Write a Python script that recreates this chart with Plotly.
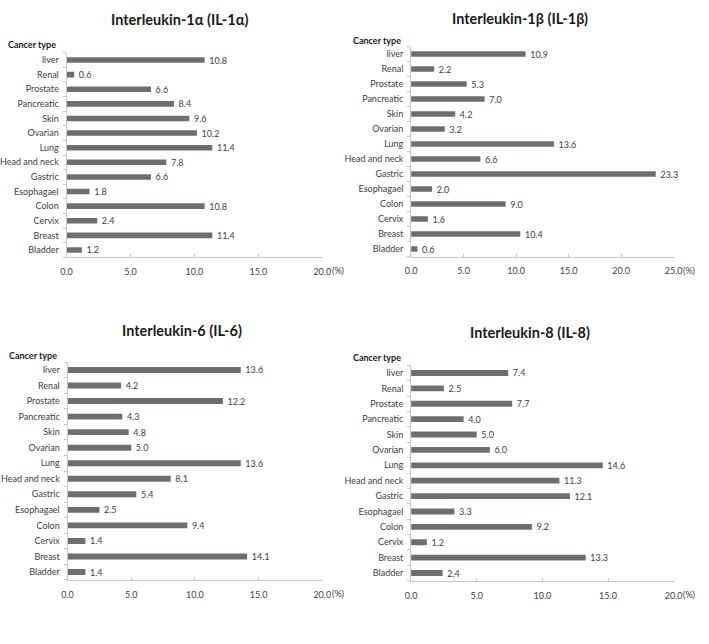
import plotly.graph_objects as go

categories = ["liver", "Renal", "Prostate", "Pancreatic", "Skin", "Ovarian", "Lung",
              "Head and neck", "Gastric", "Esophagael", "Colon", "Cervix", "Breast", "Bladder"]

il1a = [10.8, 0.6, 6.6, 8.4, 9.6, 10.2, 11.4, 7.8, 6.6, 1.8, 10.8, 2.4, 11.4, 1.2]
il1b = [10.9, 2.2, 5.3, 7.0, 4.2, 3.2, 13.6, 6.6, 23.3, 2.0, 9.0, 1.6, 10.4, 0.6]
il6 = [13.6, 4.2, 12.2, 4.3, 4.8, 5.0, 13.6, 8.1, 5.4, 2.5, 9.4, 1.4, 14.1, 1.4]
il8 = [7.4, 2.5, 7.7, 4.0, 5.0, 6.0, 14.6, 11.3, 12.1, 3.3, 9.2, 1.2, 13.3, 2.4]

titles = ["Interleukin-1α (IL-1α)", "Interleukin-1β (IL-1β)",
          "Interleukin-6 (IL-6)", "Interleukin-8 (IL-8)"]
x_max = [20, 25, 20, 20]
series = [il1a, il1b, il6, il8]

W, H = 709, 644
def px(x): return x / W
def py(y): return 1 - y / H

# pixel layout of each panel: (x0, x1, ytop, ybottom, title_cx, title_y, ct_x, ct_y)
panels = [
    (60, 322, 52.7, 257.3, 176, 20, -2, 44),
    (413, 682, 46.5, 256.5, 525, 18, 351, 40),
    (61, 322, 362.2, 579.8, 178, 330, -1, 355),
    (413, 682, 365.3, 580.7, 535, 332, 351, 357),
]

bar_color = "#6b706e"
txt_color = "#404040"
font_fam = "Lato, Open Sans, sans-serif"

fig = go.Figure()
annotations = []
for i, (vals, p) in enumerate(zip(series, panels)):
    x0, x1, yt, yb, tcx, ty, ctx, cty = p
    xa = "x" if i == 0 else f"x{i+1}"
    ya = "y" if i == 0 else f"y{i+1}"
    fig.add_trace(go.Bar(
        x=vals, y=categories, orientation="h", xaxis=xa, yaxis=ya,
        marker=dict(color=bar_color, line=dict(width=0)),
        width=0.38,
        text=["\u00a0\u00a0" + f"{v:.1f}" for v in vals], textposition="outside",
        constraintext="none",
        textfont=dict(size=9, color=txt_color, family=font_fam),
        cliponaxis=False, showlegend=False, hoverinfo="skip",
    ))
    key = "" if i == 0 else str(i + 1)
    fig.layout["xaxis" + key] = dict(
        domain=[px(x0), px(x1)], anchor=ya, range=[0, x_max[i]],
        tickvals=list(range(0, x_max[i] + 1, 5)), tickformat=".1f",
        showgrid=False, zeroline=False, showline=True, linecolor="#c8c8c8", linewidth=1,
        ticks="inside", ticklen=3, tickcolor="#c8c8c8", ticklabelstandoff=6,
        tickfont=dict(size=9, color=txt_color, family=font_fam), fixedrange=True,
    )
    fig.layout["yaxis" + key] = dict(
        domain=[py(yb), py(yt)], anchor=xa, type="category",
        categoryorder="array", categoryarray=categories[::-1],
        range=[-0.5, len(categories) - 0.5],
        showgrid=False, zeroline=False, showline=True, linecolor="#c8c8c8", linewidth=1,
        ticks="outside", tickson="boundaries", ticklen=3, tickcolor="#c8c8c8",
        tickfont=dict(size=9, color=txt_color, family=font_fam), ticklabelstandoff=5,
        fixedrange=True,
    )
    annotations.append(dict(
        text=f"<b>{titles[i]}</b>", x=px(tcx), y=py(ty), xref="paper", yref="paper",
        xanchor="center", yanchor="middle", showarrow=False,
        font=dict(size=14.5, color="#1a1a1a", family=font_fam),
    ))
    annotations.append(dict(
        text="<b>Cancer type</b>", x=px(ctx), y=py(cty), xref="paper", yref="paper",
        xanchor="left", yanchor="middle", showarrow=False,
        font=dict(size=9, color="#1a1a1a", family=font_fam),
    ))
    annotations.append(dict(
        text="(%)", x=px(x1 + 8), y=py(yb + 13.5), xref="paper", yref="paper",
        xanchor="left", yanchor="middle", showarrow=False,
        font=dict(size=9, color=txt_color, family=font_fam),
    ))

fig.update_layout(
    width=W, height=H, margin=dict(l=0, r=0, t=0, b=0),
    paper_bgcolor="white", plot_bgcolor="white",
    annotations=annotations, bargap=0.6,
)

fig.write_html("out.html")
